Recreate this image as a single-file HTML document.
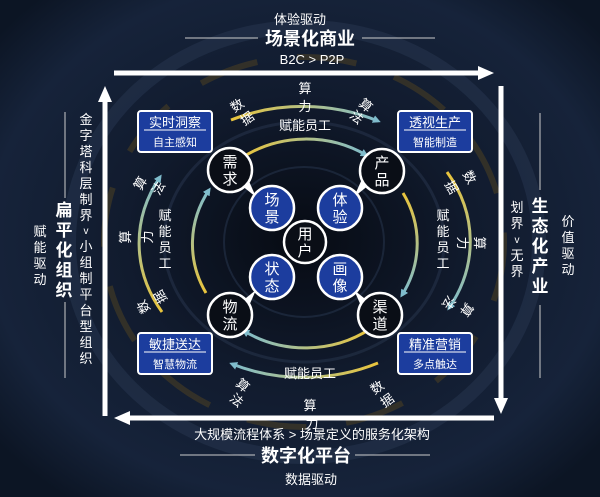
<!DOCTYPE html>
<html><head><meta charset="utf-8"><style>
html,body{margin:0;padding:0;background:#0a101c;}
svg{display:block;}
text{font-family:"Liberation Sans","Noto Sans CJK SC",sans-serif;fill:#fff;}
</style></head><body>
<svg width="600" height="497" viewBox="0 0 600 497" xmlns="http://www.w3.org/2000/svg">
<defs>
<radialGradient id="bg" cx="0.5" cy="0.48" r="0.65">
<stop offset="0" stop-color="#070b13"/><stop offset="0.45" stop-color="#111b2e"/><stop offset="0.8" stop-color="#16233a"/><stop offset="1" stop-color="#0c1524"/>
</radialGradient>
<linearGradient id="gT" x1="0" y1="0" x2="1" y2="0"><stop offset="0" stop-color="#e9c43c"/><stop offset="1" stop-color="#7fbccc"/></linearGradient>
<linearGradient id="gR" x1="0" y1="0" x2="0" y2="1"><stop offset="0" stop-color="#e9c43c"/><stop offset="1" stop-color="#7fbccc"/></linearGradient>
<linearGradient id="gB" x1="1" y1="0" x2="0" y2="0"><stop offset="0" stop-color="#e9c43c"/><stop offset="1" stop-color="#7fbccc"/></linearGradient>
<linearGradient id="gL" x1="0" y1="1" x2="0" y2="0"><stop offset="0" stop-color="#e9c43c"/><stop offset="1" stop-color="#7fbccc"/></linearGradient>
<marker id="ah" markerWidth="8" markerHeight="8" refX="5" refY="4" orient="auto" markerUnits="userSpaceOnUse"><path d="M0,0 L8,4 L0,8 Z" fill="#7fbccc"/></marker>
</defs>
<rect width="600" height="497" fill="url(#bg)"/>
<ellipse cx="304" cy="242" rx="235" ry="215" fill="none" stroke="#2a3a55" stroke-width="14" opacity="0.45"/>
<ellipse cx="304" cy="242" rx="200" ry="185" fill="none" stroke="#5a4a20" stroke-width="6" opacity="0.45" stroke-dasharray="60 40"/>
<ellipse cx="304" cy="242" rx="140" ry="120" fill="none" stroke="#24324a" stroke-width="3" opacity="0.6"/>
<ellipse cx="304" cy="242" rx="80" ry="75" fill="none" stroke="#24324a" stroke-width="2" opacity="0.6"/>

<g fill="#fff" stroke="#fff">
<line x1="114" y1="73" x2="480" y2="73" stroke-width="5"/><path d="M478,66 L494,73 L478,80 Z" stroke="none"/>
<line x1="501" y1="86" x2="501" y2="400" stroke-width="5"/><path d="M494,398 L501,414 L508,398 Z" stroke="none"/>
<line x1="494" y1="418" x2="128" y2="418" stroke-width="5"/><path d="M130,411 L114,418 L130,425 Z" stroke="none"/>
<line x1="105" y1="416" x2="105" y2="100" stroke-width="5"/><path d="M98,102 L105,86 L112,102 Z" stroke="none"/>
</g>

<text x="300" y="24" font-size="13" text-anchor="middle">体验驱动</text>
<line x1="185" y1="38" x2="258" y2="38" stroke="#ccc" stroke-width="1"/>
<line x1="362" y1="38" x2="435" y2="38" stroke="#ccc" stroke-width="1"/>
<text x="310" y="45" font-size="18" font-weight="bold" text-anchor="middle">场景化商业</text>
<text x="312" y="64" font-size="13" text-anchor="middle">B2C &gt; P2P</text>

<text x="312" y="439" font-size="13" text-anchor="middle">大规模流程体系 &gt; 场景定义的服务化架构</text>
<line x1="180" y1="455" x2="255" y2="455" stroke="#ccc" stroke-width="1"/>
<line x1="355" y1="455" x2="430" y2="455" stroke="#ccc" stroke-width="1"/>
<text x="306" y="462" font-size="18" font-weight="bold" text-anchor="middle">数字化平台</text>
<text x="311" y="484" font-size="13" text-anchor="middle">数据驱动</text>

<line x1="65" y1="112" x2="65" y2="198" stroke="#ccc" stroke-width="1"/>
<line x1="65" y1="302" x2="65" y2="378" stroke="#ccc" stroke-width="1"/>
<g font-size="17" font-weight="bold" text-anchor="middle">
<text x="64" y="216">扁</text><text x="64" y="236">平</text><text x="64" y="256">化</text><text x="64" y="276">组</text><text x="64" y="296">织</text>
</g>
<g font-size="13" text-anchor="middle">
<text x="40" y="236">赋</text><text x="40" y="252">能</text><text x="40" y="268">驱</text><text x="40" y="284">动</text>
<text x="86" y="124">金</text><text x="86" y="140">字</text><text x="86" y="156">塔</text><text x="86" y="172">科</text><text x="86" y="188">层</text><text x="86" y="204">制</text><text x="86" y="220">界</text><text x="86" y="234" font-size="10">v</text><text x="86" y="251">小</text><text x="86" y="267">组</text><text x="86" y="283">制</text><text x="86" y="299">平</text><text x="86" y="315">台</text><text x="86" y="331">型</text><text x="86" y="347">组</text><text x="86" y="363">织</text>
</g>

<line x1="540" y1="113" x2="540" y2="190" stroke="#ccc" stroke-width="1"/>
<line x1="540" y1="305" x2="540" y2="378" stroke="#ccc" stroke-width="1"/>
<g font-size="17" font-weight="bold" text-anchor="middle">
<text x="540" y="212">生</text><text x="540" y="232">态</text><text x="540" y="252">化</text><text x="540" y="272">产</text><text x="540" y="292">业</text>
</g>
<g font-size="13" text-anchor="middle">
<text x="517" y="212">划</text><text x="517" y="228">界</text><text x="517" y="243" font-size="10">v</text><text x="517" y="260">无</text><text x="517" y="276">界</text>
<text x="568" y="226">价</text><text x="568" y="242">值</text><text x="568" y="258">驱</text><text x="568" y="274">动</text>
</g>

<g fill="none" stroke-width="3" marker-end="url(#ah)">
<path d="M231,120 A166,136 0 0 1 378,121" stroke="url(#gT)"/>
<path d="M447,172 A166,136 0 0 1 449,308" stroke="url(#gR)"/>
<path d="M378,363 A166,136 0 0 1 232,364" stroke="url(#gB)"/>
<path d="M162,312 A166,136 0 0 1 160,177" stroke="url(#gL)"/>
</g>
<g fill="none" stroke-width="3" marker-end="url(#ah)">
<path d="M243,157 A112,103 0 0 1 366,155" stroke="url(#gT)"/>
<path d="M403,193 A112,103 0 0 1 402,295" stroke="url(#gR)"/>
<path d="M370,329 A112,103 0 0 1 244,331" stroke="url(#gB)"/>
<path d="M206,293 A112,103 0 0 1 209,190" stroke="url(#gL)"/>
</g>

<g font-size="13" text-anchor="middle">
<text x="237" y="110" transform="rotate(-35 237 105)">数</text><text x="247" y="123" transform="rotate(-35 247 118)">据</text>
<text x="305" y="93">算</text><text x="305" y="111">力</text>
<text x="366" y="110" transform="rotate(40 366 105)">算</text><text x="357" y="122" transform="rotate(40 357 117)">法</text>
<text x="140" y="188" transform="rotate(-60 140 183)">算</text><text x="158" y="193" transform="rotate(-60 158 188)">法</text>
<text x="125" y="242" transform="rotate(-90 125 237)">算</text><text x="147" y="242" transform="rotate(-90 147 237)">力</text>
<text x="143" y="312" transform="rotate(-120 143 307)">数</text><text x="160" y="302" transform="rotate(-120 160 297)">据</text>
<text x="470" y="182" transform="rotate(60 470 177)">数</text><text x="452" y="192" transform="rotate(60 452 187)">据</text>
<text x="480" y="248" transform="rotate(90 480 243)">算</text><text x="463" y="248" transform="rotate(90 463 243)">力</text>
<text x="467" y="315" transform="rotate(125 467 310)">算</text><text x="449" y="308" transform="rotate(125 449 303)">法</text>
<text x="243" y="390" transform="rotate(40 243 385)">算</text><text x="237" y="405" transform="rotate(40 237 400)">法</text>
<text x="310" y="410">算</text><text x="312" y="428">力</text>
<text x="377" y="392" transform="rotate(-35 377 387)">数</text><text x="387" y="405" transform="rotate(-35 387 400)">据</text>
</g>
<g font-size="13" text-anchor="middle">
<text x="305" y="130">赋能员工</text>
<text x="310" y="378">赋能员工</text>
<text x="165" y="220">赋</text><text x="165" y="236">能</text><text x="165" y="252">员</text><text x="165" y="268">工</text>
<text x="443" y="220">赋</text><text x="443" y="236">能</text><text x="443" y="252">员</text><text x="443" y="268">工</text>
</g>

<g stroke="#fff" stroke-width="2" fill="#1c3d9e">
<rect x="138" y="111" width="74" height="41" rx="3"/>
<rect x="398" y="111" width="74" height="41" rx="3"/>
<rect x="138" y="333" width="74" height="41" rx="3"/>
<rect x="398" y="333" width="74" height="41" rx="3"/>
</g>
<g stroke="#fff" stroke-width="1">
<line x1="144" y1="130" x2="206" y2="130"/><line x1="404" y1="130" x2="466" y2="130"/>
<line x1="144" y1="352" x2="206" y2="352"/><line x1="404" y1="352" x2="466" y2="352"/>
</g>
<g text-anchor="middle">
<text x="175" y="127" font-size="13">实时洞察</text><text x="175" y="146" font-size="11">自主感知</text>
<text x="435" y="127" font-size="13">透视生产</text><text x="435" y="146" font-size="11">智能制造</text>
<text x="175" y="349" font-size="13">敏捷送达</text><text x="175" y="368" font-size="11">智慧物流</text>
<text x="435" y="349" font-size="13">精准营销</text><text x="435" y="368" font-size="11">多点触达</text>
</g>

<g fill="#fff">
<path d="M241,185 L256,197 L248,179 Z"/>
<path d="M369,185 L354,197 L362,179 Z"/>
<path d="M241,302 L256,290 L248,308 Z"/>
<path d="M369,302 L354,290 L362,308 Z"/>
</g>
<g fill="#0a0e16" stroke="#fff" stroke-width="2.5">
<circle cx="230" cy="170" r="22"/><circle cx="382" cy="171" r="22"/>
<circle cx="230" cy="315" r="22"/><circle cx="380" cy="315" r="22"/>
<circle cx="305" cy="242" r="21"/>
</g>
<g fill="#1c3d9e" stroke="#fff" stroke-width="2.5">
<circle cx="272" cy="208" r="22"/><circle cx="340" cy="208" r="22"/>
<circle cx="272" cy="277" r="22"/><circle cx="340" cy="277" r="22"/>
</g>
<g font-size="15" text-anchor="middle">
<text x="230" y="167">需</text><text x="230" y="184">求</text>
<text x="382" y="168">产</text><text x="382" y="185">品</text>
<text x="230" y="312">物</text><text x="230" y="329">流</text>
<text x="380" y="312">渠</text><text x="380" y="329">道</text>
<text x="305" y="239">用</text><text x="305" y="256">户</text>
<text x="272" y="205">场</text><text x="272" y="222">景</text>
<text x="340" y="205">体</text><text x="340" y="222">验</text>
<text x="272" y="274">状</text><text x="272" y="291">态</text>
<text x="340" y="274">画</text><text x="340" y="291">像</text>
</g>
</svg>
</body></html>
